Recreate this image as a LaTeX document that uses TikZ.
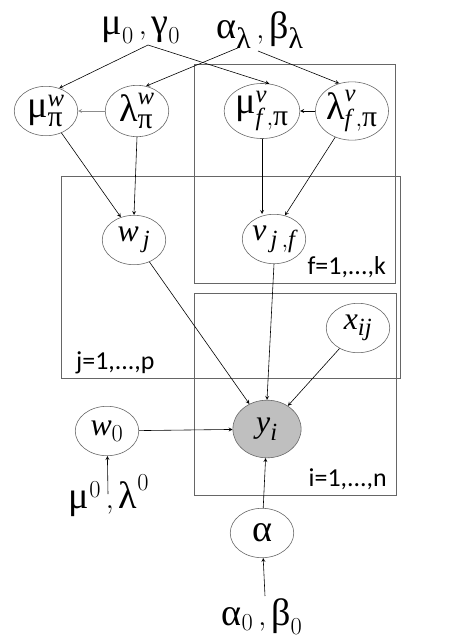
\documentclass[tikz,border=0pt]{standalone}
\usepackage{amsmath}
\usepackage{fontspec}
\setmainfont{Liberation Serif}
\newfontfamily\platefont{Carlito}
\newfontfamily\grkfont[Scale=1.2]{Liberation Serif}
\newcommand{\gr}[1]{\text{\grkfont #1}}
\DeclareMathSizes{27}{27}{21}{17}
\usetikzlibrary{shapes.geometric}
\begin{document}
\begin{tikzpicture}[x=0.85pt,y=-0.85pt,>=stealth,line width=0.5pt,
  var/.style={ellipse,draw=black!60,minimum width=54pt,minimum height=42pt,inner sep=0pt,font=\fontsize{27}{30}\selectfont},
  obs/.style={var,fill=black!25,minimum width=58pt,minimum height=49pt},
  hyp/.style={anchor=base,font=\fontsize{27}{30}\selectfont},
  plate/.style={draw=black!60},
  platelabel/.style={font=\platefont\fontsize{22}{26}\selectfont}]
  \useasboundingbox (0,0) rectangle (449,638);

  % plates
  \draw[plate] (194,64) rectangle (395,283);
  \draw[plate] (61,176) rectangle (400,378);
  \draw[plate] (194,293) rectangle (396,495);
  \node[platelabel,anchor=base east] (lblf) at (390,274) {f=1,...,k};
  \node[platelabel,anchor=base west] (lblj) at (72,369) {j=1,...,p};
  \node[platelabel,anchor=base east] (lbli) at (391,486) {i=1,...,n};

  % hyperparameters
  \node[hyp] (mugam) at (141,34) {$\gr{μ}_0\,,\gr{γ}_0$};
  \node[hyp] (alpbet) at (260,38) {$\gr{α}_{\gr{λ}}\,,\gr{β}_{\gr{λ}}$};
  \node[hyp] (mulam0) at (109,508) {$\gr{μ}^0\,,\gr{λ}^0$};
  \node[hyp] (alpbet0) at (262,625) {$\gr{α}_0\,,\gr{β}_0$};
  \coordinate (mg) at (148,45);
  \coordinate (abl) at (240,47);
  \coordinate (abr) at (258,51);
  \coordinate (ml0) at (108,494);
  \coordinate (ab0) at (265,596);

  % variables
  \node[var] (muw) at (46,111) {$\gr{μ}^{\textit{w}}_{\gr{π}}$};
  \node[var] (lamw) at (137,111) {$\gr{λ}^{\textit{w}}_{\gr{π}}$};
  \node[var] (muv) at (262,111) {$\gr{μ}^{\textit{v}}_{\textit{f}\,,\gr{π}}$};
  \node[var] (lamv) at (352,111) {$\gr{λ}^{\textit{v}}_{\textit{f}\,,\gr{π}}$};
  \node[var] (wj) at (134,240) {$\textit{w}_{\,\textit{j}}$};
  \node[var] (vjf) at (274,239) {$\textit{v}_{\,\textit{j}\,,\textit{f}}$};
  \node[var] (xij) at (358,328) {$\textit{x}_{\textit{ij}}$};
  \node[obs] (yi) at (267,429) {$\textit{y}_{\textit{i}}$};
  \node[var] (w0) at (107,431) {$\textit{w}_{0}$};
  \node[var] (alpha) at (262,533) {$\gr{α}$};

  % edges
  \draw[->] (mg) -- (muw.60);
  \draw[->] (mg) -- (muv.75);
  \draw[->] (abl) -- (lamw.70);
  \draw[->] (abr) -- (lamv.115);
  \draw[->,black!45] (lamw) -- (muw);
  \draw[->] (lamv) -- (muv);
  \draw[->] (muw) -- (wj.120);
  \draw[->] (lamw.south) -- (wj.north);
  \draw[->] (muv.south) -- (muv.south |- vjf.north);
  \draw[->] (lamv) -- (vjf.65);
  \draw[->] (wj) -- (yi);
  \draw[->] (vjf.south) -- (yi.north);
  \draw[->] (xij) -- (yi);
  \draw[->] (w0) -- (yi);
  \draw[->] (alpha) -- (yi);
  \draw[->] (ml0) -- (w0);
  \draw[->] (ab0) -- (alpha);
\end{tikzpicture}
\end{document}
